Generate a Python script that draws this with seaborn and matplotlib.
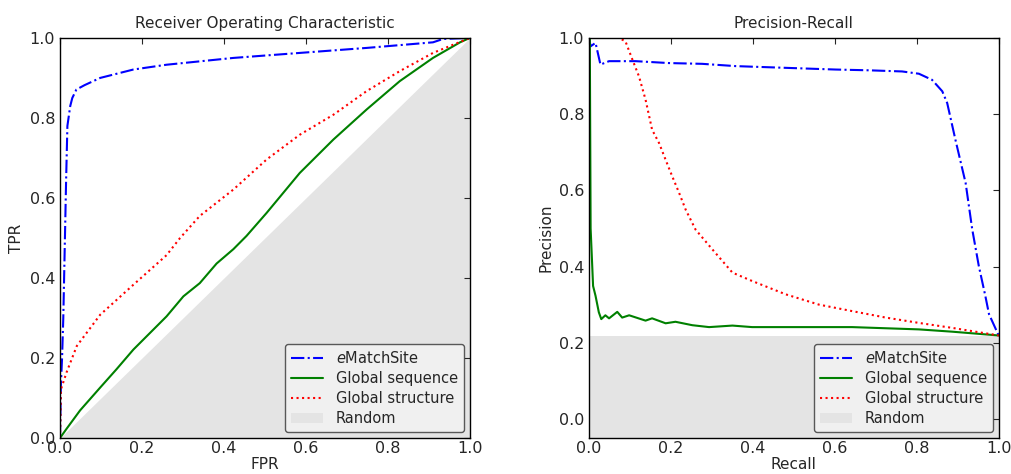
import numpy as np
import matplotlib
matplotlib.use("Agg")
import matplotlib.pyplot as plt
import seaborn as sns
from matplotlib.patches import Patch

# ROC curves (FPR, TPR)
roc_ematch_fpr = [0.0, 0.002, 0.005, 0.008, 0.012, 0.015, 0.018, 0.025, 0.03, 0.04, 0.06, 0.098,
                  0.179, 0.26, 0.423, 0.585, 0.748, 0.91, 0.935, 1.0]
roc_ematch_tpr = [0.0, 0.13, 0.2, 0.3, 0.5, 0.65, 0.78, 0.83, 0.85, 0.871, 0.882, 0.9,
                  0.921, 0.933, 0.95, 0.9625, 0.975, 0.989, 0.9975, 1.0]

roc_seq_fpr = [0.0, 0.016, 0.049, 0.098, 0.138, 0.179, 0.22, 0.26, 0.301, 0.341, 0.382, 0.423,
               0.455, 0.504, 0.585, 0.667, 0.748, 0.829, 0.91, 0.976, 1.0]
roc_seq_tpr = [0.0, 0.023, 0.069, 0.126, 0.172, 0.221, 0.263, 0.304, 0.354, 0.387, 0.436, 0.472,
               0.505, 0.5625, 0.6625, 0.746, 0.821, 0.892, 0.95, 0.989, 1.0]

roc_struct_fpr = [0.0, 0.0024, 0.016, 0.041, 0.098, 0.179, 0.26, 0.293, 0.341, 0.423, 0.504,
                  0.585, 0.667, 0.748, 0.829, 0.91, 1.0]
roc_struct_tpr = [0.0, 0.122, 0.164, 0.23, 0.308, 0.383, 0.457, 0.5, 0.555, 0.621, 0.696,
                  0.758, 0.808, 0.867, 0.917, 0.9625, 1.0]

# Precision-recall curves (Recall, Precision)
pr_ematch_rec = [0.0, 0.004, 0.016, 0.028, 0.049, 0.114, 0.195, 0.276, 0.358, 0.439, 0.52, 0.602,
                 0.683, 0.764, 0.805, 0.837, 0.862, 0.874, 0.894, 0.919, 0.935, 0.951, 0.967,
                 0.976, 1.0]
pr_ematch_prec = [1.0, 0.978, 0.987, 0.93, 0.939, 0.939, 0.934, 0.932, 0.926, 0.923, 0.92, 0.917,
                  0.915, 0.912, 0.906, 0.89, 0.86, 0.829, 0.733, 0.619, 0.498, 0.402, 0.323,
                  0.275, 0.218]

pr_seq_rec = [0.0, 0.002, 0.004, 0.01, 0.016, 0.024, 0.03, 0.04, 0.049, 0.069, 0.081, 0.098,
              0.138, 0.154, 0.187, 0.211, 0.252, 0.293, 0.35, 0.398, 0.48, 0.642, 0.805, 0.886, 1.0]
pr_seq_prec = [1.0, 1.0, 0.5, 0.349, 0.323, 0.28, 0.262, 0.272, 0.264, 0.281, 0.266, 0.272,
               0.258, 0.264, 0.251, 0.255, 0.246, 0.241, 0.245, 0.241, 0.241, 0.241, 0.235,
               0.229, 0.219]

pr_struct_rec = [0.0, 0.073, 0.089, 0.106, 0.122, 0.138, 0.154, 0.171, 0.187, 0.203, 0.22, 0.236,
                 0.26, 0.301, 0.35, 0.398, 0.48, 0.561, 0.642, 0.724, 0.805, 0.886, 1.0]
pr_struct_prec = [1.0, 1.0, 0.991, 0.943, 0.899, 0.838, 0.759, 0.724, 0.68, 0.637, 0.593, 0.549,
                  0.497, 0.445, 0.384, 0.362, 0.327, 0.3, 0.283, 0.266, 0.252, 0.239, 0.219]

baseline = 0.218
labels = ["$e$MatchSite", "Global sequence", "Global structure", "Random"]

sns.set_style("white")
plt.rcParams["font.family"] = ["DejaVu Sans"]
plt.rcParams["font.size"] = 11

fig = plt.figure(figsize=(10.12, 4.74), dpi=100)
ax1 = fig.add_axes([0.0593, 0.076, 0.405, 0.844])
ax2 = fig.add_axes([0.582, 0.076, 0.405, 0.844])

fill_color = "#e4e4e4"


def draw(ax, xs, ys):
    styles = [("blue", "-."), ("green", "-"), ("red", ":")]
    for (x, y), (c, ls), lab in zip(zip(xs, ys), styles, labels[:3]):
        sns.lineplot(x=x, y=y, ax=ax, estimator=None, sort=False, color=c,
                     linestyle=ls, linewidth=1.5, label=lab, legend=False)


ax1.fill_between([0, 1], [0, 0], [0, 1], color=fill_color, linewidth=0, zorder=0)
draw(ax1, [roc_ematch_fpr, roc_seq_fpr, roc_struct_fpr],
     [roc_ematch_tpr, roc_seq_tpr, roc_struct_tpr])
ax1.set_xlim(0, 1)
ax1.set_ylim(0, 1)
ax1.set_title("Receiver Operating Characteristic", fontsize=11, pad=7)
ax1.set_xlabel("FPR", labelpad=1)
ax1.set_ylabel("TPR")

ax2.fill_between([0, 1], [-0.05, -0.05], [baseline, baseline], color=fill_color,
                 linewidth=0, zorder=0)
draw(ax2, [pr_ematch_rec, pr_seq_rec, pr_struct_rec],
     [pr_ematch_prec, pr_seq_prec, pr_struct_prec])
ax2.set_xlim(0, 1)
ax2.set_ylim(-0.05, 1)
ax2.set_title("Precision-Recall", fontsize=11, pad=7)
ax2.set_xlabel("Recall", labelpad=1)
ax2.set_ylabel("Precision")

for ax in (ax1, ax2):
    ax.set_xticks(np.arange(0, 1.01, 0.2))
    ax.set_yticks(np.arange(0, 1.01, 0.2))
    ax.tick_params(direction="in", top=True, right=True, length=4, labelsize=11.5)
    ax.tick_params(axis="x", pad=2)
    for s in ax.spines.values():
        s.set_color("black")
        s.set_linewidth(1.0)
    handles, labs = ax.get_legend_handles_labels()
    handles.append(Patch(facecolor=fill_color, edgecolor="none"))
    labs.append(labels[3])
    leg = ax.legend(handles, labs, loc="lower right", fontsize=10.5, frameon=True,
                    fancybox=True, borderaxespad=0.4, handlelength=2.2,
                    handletextpad=0.9, labelspacing=0.35)
    leg.get_frame().set_edgecolor("#333333")
    leg.get_frame().set_facecolor("#f4f4f4")

fig.savefig("out.png", dpi=100)
